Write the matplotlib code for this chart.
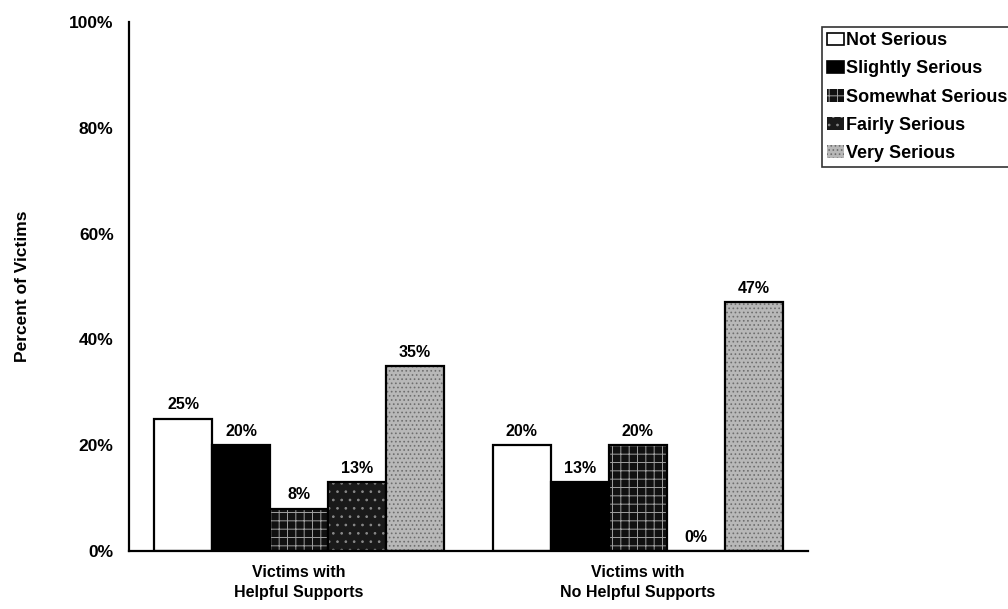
import matplotlib.pyplot as plt
import numpy as np

plt.rcParams['font.family'] = 'Liberation Sans'
plt.rcParams['font.weight'] = 'bold'

groups = ["Victims with\nHelpful Supports", "Victims with\nNo Helpful Supports"]
levels = ["Not Serious", "Slightly Serious", "Somewhat Serious", "Fairly Serious", "Very Serious"]
values = {
    "Not Serious": [25, 20],
    "Slightly Serious": [20, 13],
    "Somewhat Serious": [8, 20],
    "Fairly Serious": [13, 0],
    "Very Serious": [35, 47],
}
yticks = [0, 20, 40, 60, 80, 100]

# fill colour, hatch pattern, hatch colour for each seriousness level
styles = {
    "Not Serious": ("white", None, None),
    "Slightly Serious": ("black", None, None),
    "Somewhat Serious": ("#111111", "++", "#a0a0a0"),
    "Fairly Serious": ("#1a1a1a", "..", "#8a8a8a"),
    "Very Serious": ("#b8b8b8", "....", "#6e6e6e"),
}

plt.rcParams['hatch.linewidth'] = 0.7

fig = plt.figure(figsize=(10.08, 6.09), dpi=100)
ax = fig.add_axes([0.128, 0.095, 0.674, 0.869])

x = np.arange(len(groups))
width = 0.171
handles = []
for i, lvl in enumerate(levels):
    face, hatch, hcol = styles[lvl]
    pos = x + (i - 2) * width
    vals = values[lvl]
    if hatch:
        ax.bar(pos, vals, width, color=face, hatch=hatch, edgecolor=hcol, linewidth=0)
    else:
        ax.bar(pos, vals, width, color=face, linewidth=0)
    ax.bar(pos, vals, width, fill=False, edgecolor="black", linewidth=1.6)
    for p, v in zip(pos, vals):
        ax.text(p, v + 1.2, f"{v}%", ha="center", va="bottom", fontsize=11.5, fontweight="bold")
    handles.append(plt.Rectangle((0, 0), 1, 1, facecolor=face, hatch=hatch,
                                 edgecolor=hcol if hatch else "black", linewidth=0 if hatch else 1.2))

ax.set_xlim(-0.502, 1.504)
ax.set_ylim(0, 100)
ax.set_yticks(yticks)
ax.set_yticklabels([f"{t}%" for t in yticks], fontsize=12.5, fontweight="bold")
ax.set_xticks(x)
ax.set_xticklabels(groups, fontsize=11.5, fontweight="bold", linespacing=1.4)
ax.tick_params(length=0)
ax.tick_params(axis="y", pad=11)
ax.tick_params(axis="x", pad=10)
ax.spines["top"].set_visible(False)
ax.spines["right"].set_visible(False)
ax.spines["left"].set_linewidth(1.6)
ax.spines["bottom"].set_linewidth(1.6)
ax.set_ylabel("Percent of Victims", fontsize=12.5, fontweight="bold")
ax.yaxis.set_label_coords(-0.146, 0.5)

leg = fig.legend(handles, levels, loc="upper left", bbox_to_anchor=(0.815, 0.956),
                 fontsize=13, frameon=True, fancybox=False, edgecolor="black",
                 handlelength=0.95, handleheight=0.7, handletextpad=0.12,
                 labelspacing=0.62, borderpad=0.3, borderaxespad=0)
leg.get_frame().set_linewidth(1.2)
for t in leg.get_texts():
    t.set_fontweight("bold")

fig.savefig("out.png", dpi=100)
